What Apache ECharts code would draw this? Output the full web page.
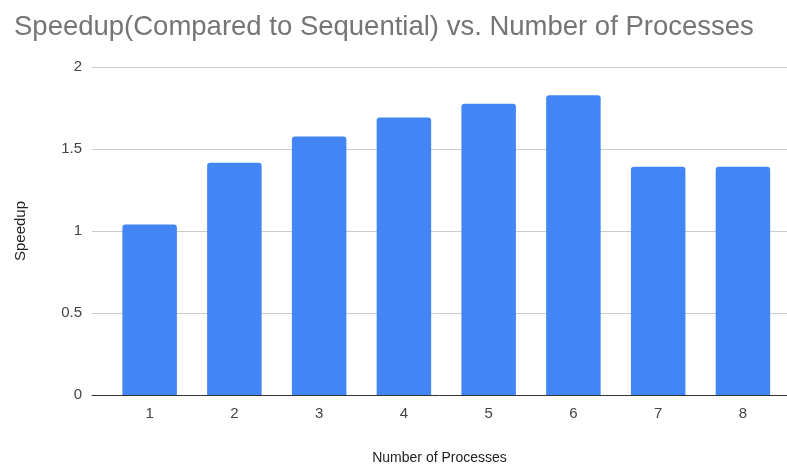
<!DOCTYPE html>
<html>
<head>
<meta charset="utf-8">
<script src="https://cdn.jsdelivr.net/npm/echarts@6/dist/echarts.min.js"></script>
<style>
  html, body { margin: 0; padding: 0; background: #fff; }
  #chart { width: 787px; height: 470px; }
</style>
</head>
<body>
<div id="chart"></div>
<script>
const processes = [1, 2, 3, 4, 5, 6, 7, 8];
const speedup = [1.04, 1.416, 1.576, 1.692, 1.776, 1.828, 1.392, 1.392];
const yTicks = [0, 0.5, 1, 1.5, 2];

const FONT = 'Arial, "Liberation Sans", sans-serif';

const chart = echarts.init(document.getElementById('chart'));

const option = {
  animation: false,
  title: {
    text: 'Speedup(Compared to Sequential) vs. Number of Processes',
    left: 9,
    top: 8,
    textStyle: { fontFamily: FONT, fontSize: 27.5, fontWeight: 'normal', color: '#757575' }
  },
  grid: { left: 92, right: 0, top: 67, bottom: 70 },
  xAxis: {
    type: 'value',
    min: 0.32,
    max: 8.52,
    name: 'Number of Processes',
    nameLocation: 'middle',
    nameGap: 56,
    nameTextStyle: { fontFamily: FONT, fontSize: 14, color: '#222' },
    axisLine: { show: true, lineStyle: { color: '#333', width: 1 } },
    axisTick: { show: false },
    splitLine: { show: false },
    axisLabel: {
      customValues: processes,
      fontFamily: FONT, fontSize: 15, color: '#444', margin: 11
    }
  },
  yAxis: {
    type: 'value',
    min: 0,
    max: 2,
    interval: 0.5,
    name: 'Speedup',
    nameLocation: 'middle',
    nameGap: 64,
    nameTextStyle: { fontFamily: FONT, fontSize: 15, color: '#222' },
    axisLine: { show: false },
    axisTick: { show: false },
    splitLine: { lineStyle: { color: '#cccccc', width: 1 } },
    axisLabel: {
      fontFamily: FONT, fontSize: 15, color: '#444', margin: 10,
      formatter: v => (yTicks.indexOf(v) >= 0 ? String(v) : '')
    }
  },
  series: [
    {
      type: 'bar',
      data: processes.map((p, i) => [p, speedup[i]]),
      barWidth: 54.5,
      itemStyle: { color: '#4285F4', borderRadius: [3, 3, 0, 0] }
    }
  ]
};

chart.setOption(option);
</script>
</body>
</html>
